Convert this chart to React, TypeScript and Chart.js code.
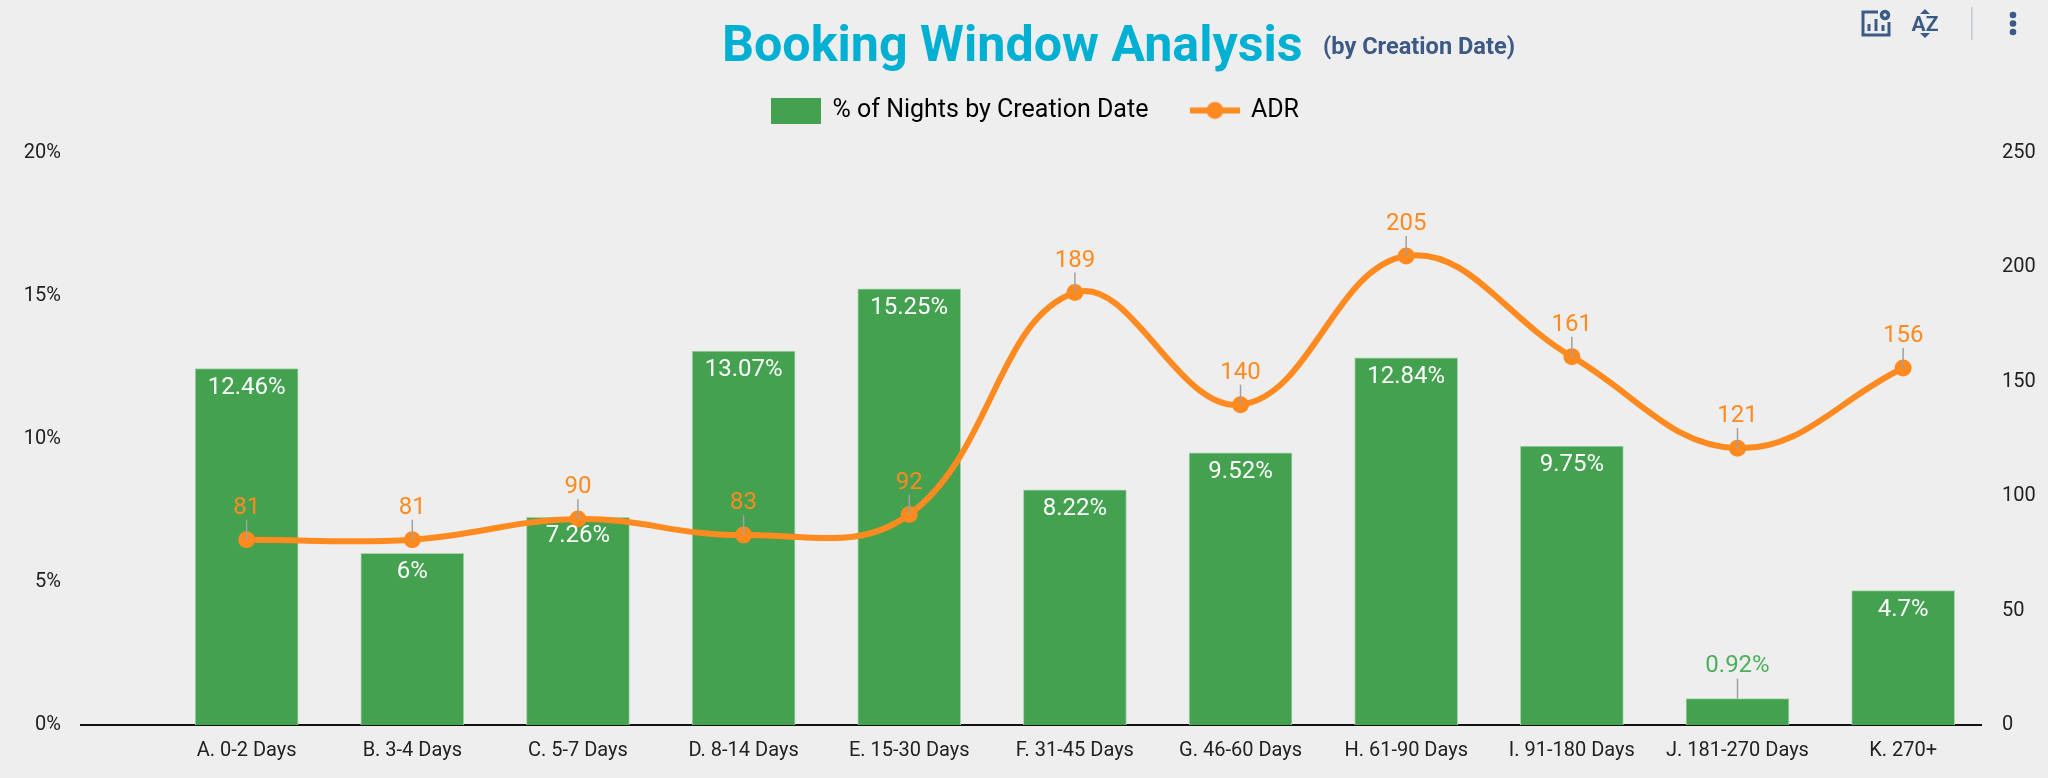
import React, { useEffect, useRef } from 'react';
import { Chart, registerables } from 'chart.js';

Chart.register(...registerables);

const CATEGORIES = [
    'A. 0-2 Days', 'B. 3-4 Days', 'C. 5-7 Days', 'D. 8-14 Days', 'E. 15-30 Days', 'F. 31-45 Days',
    'G. 46-60 Days', 'H. 61-90 Days', 'I. 91-180 Days', 'J. 181-270 Days', 'K. 270+',
];
const NIGHTS_PCT = [12.46, 6, 7.26, 13.07, 15.25, 8.22, 9.52, 12.84, 9.75, 0.92, 4.7];
const ADR = [81, 81, 90, 83, 92, 189, 140, 205, 161, 121, 156];
const PCT_TICKS = [0, 5, 10, 15, 20];
const ADR_TICKS = [0, 50, 100, 150, 200, 250];

const GREEN = '#43a14f';
const ORANGE = '#ff8a1f';
const FONT = 'Roboto, sans-serif';

const legendSwatch = (kind: 'bar' | 'line') => {
    const c = document.createElement('canvas');
    c.width = 50;
    c.height = 26;
    const ctx = c.getContext('2d')!;
    if (kind === 'bar') {
        ctx.fillStyle = GREEN;
        ctx.fillRect(0, 0, 50, 26);
    } else {
        ctx.fillStyle = ORANGE;
        ctx.fillRect(0, 10, 50, 6);
        ctx.beginPath();
        ctx.arc(25, 13, 8.5, 0, Math.PI * 2);
        ctx.fill();
    }
    return c;
};

// legend tweaks and value labels with the little grey leader lines
const valueLabels = {
    id: 'valueLabels',
    beforeInit(chart: any) {
        // extra gap under the legend
        const fit = chart.legend.fit;
        chart.legend.fit = function () {
            fit.call(chart.legend);
            this.height += 20;
        };
    },
    afterLayout(chart: any) {
        // legend sits a little right of the page centre
        chart.legend.left += 12;
        chart.legend.right += 12;
    },
    afterDatasetsDraw(chart: Chart) {
        const ctx = chart.ctx;
        const leader = (x: number, y1: number, y2: number) => {
            ctx.strokeStyle = '#a0a0a0';
            ctx.lineWidth = 1.5;
            ctx.beginPath();
            ctx.moveTo(x, y1);
            ctx.lineTo(x, y2);
            ctx.stroke();
        };
        ctx.save();
        ctx.font = '24px ' + FONT;
        ctx.textAlign = 'center';
        ctx.textBaseline = 'middle';
        chart.getDatasetMeta(0).data.forEach((bar: any, i: number) => {
            const text = NIGHTS_PCT[i] + '%';
            if (NIGHTS_PCT[i] < 2) {
                leader(bar.x, bar.y, bar.y - 20);
                ctx.fillStyle = '#4caf5c';
                ctx.fillText(text, bar.x, bar.y - 33);
            } else {
                ctx.fillStyle = '#ffffff';
                ctx.fillText(text, bar.x, bar.y + 19);
            }
        });
        chart.getDatasetMeta(1).data.forEach((pt: any, i: number) => {
            leader(pt.x, pt.y, pt.y - 20);
            ctx.fillStyle = ORANGE;
            ctx.fillText(String(ADR[i]), pt.x, pt.y - 32);
        });
        ctx.restore();
    },
};

const App: React.FC = () => {
    const chartRef = useRef<HTMLCanvasElement>(null);

    useEffect(() => {
        let chartInstance: Chart | undefined;
        if (chartRef.current) {
            chartInstance = new Chart(chartRef.current, {
                type: 'bar',
                data: {
                    datasets: [
                        {
                            label: '% of Nights by Creation Date',
                            data: NIGHTS_PCT.map((y, x) => ({ x, y })),
                            backgroundColor: GREEN,
                            borderColor: '#a9d3ad',
                            borderWidth: { top: 1, left: 1, right: 1, bottom: 0 },
                            barThickness: 103,
                            yAxisID: 'y',
                            order: 2,
                        },
                        {
                            type: 'line',
                            label: 'ADR',
                            data: ADR.map((y, x) => ({ x, y })),
                            borderColor: ORANGE,
                            backgroundColor: ORANGE,
                            borderWidth: 6,
                            pointRadius: 8.5,
                            pointBorderWidth: 0,
                            tension: 0.4,
                            yAxisID: 'y1',
                            order: 1,
                        },
                    ],
                } as any,
                options: {
                    responsive: false,
                    animation: false,
                    layout: { padding: { top: 55, left: 0, right: 0, bottom: 0 } },
                    plugins: {
                        tooltip: { enabled: false },
                        legend: {
                            position: 'top',
                            labels: {
                                usePointStyle: true,
                                pointStyleWidth: 47,
                                color: '#111111',
                                font: { family: FONT, size: 25 },
                                padding: 43,
                                generateLabels: () => [
                                    { text: '% of Nights by Creation Date', pointStyle: legendSwatch('bar'), datasetIndex: 0, lineWidth: 0 },
                                    { text: 'ADR', pointStyle: legendSwatch('line'), datasetIndex: 1, lineWidth: 0 },
                                ] as any,
                            },
                        },
                    },
                    scales: {
                        x: {
                            type: 'linear',
                            min: -1,
                            max: 10.47,
                            offset: false,
                            grid: { display: false },
                            border: { color: '#111111', width: 2 },
                            afterBuildTicks: (scale: any) => {
                                scale.ticks = CATEGORIES.map((_, value) => ({ value }));
                            },
                            afterFit: (scale: any) => {
                                scale.height = 53;
                            },
                            ticks: {
                                autoSkip: false,
                                maxRotation: 0,
                                color: '#222222',
                                padding: 6,
                                font: { family: FONT, size: 20 },
                                callback: (value: any) => CATEGORIES[value],
                            },
                        },
                        y: {
                            position: 'left',
                            min: 0,
                            max: 20,
                            grid: { display: false },
                            border: { display: false },
                            afterBuildTicks: (scale: any) => {
                                scale.ticks = PCT_TICKS.map((value) => ({ value }));
                            },
                            afterFit: (scale: any) => {
                                scale.width = 81;
                            },
                            ticks: {
                                color: '#222222',
                                padding: 12,
                                font: { family: FONT, size: 20 },
                                callback: (value: any) => value + '%',
                            },
                        },
                        y1: {
                            position: 'right',
                            min: 0,
                            max: 250,
                            grid: { display: false },
                            border: { display: false },
                            afterBuildTicks: (scale: any) => {
                                scale.ticks = ADR_TICKS.map((value) => ({ value }));
                            },
                            afterFit: (scale: any) => {
                                scale.width = 67;
                            },
                            ticks: {
                                color: '#222222',
                                padding: 13,
                                font: { family: FONT, size: 20 },
                            },
                        },
                    },
                } as any,
                plugins: [valueLabels],
            });
        }
        return () => chartInstance?.destroy();
    }, []);

    return (
        <div style={{ position: 'absolute', left: 0, top: 0, width: 2048, height: 778, background: '#eeeeee', fontFamily: FONT, overflow: 'hidden' }}>
            <canvas ref={chartRef} width={2048} height={778} style={{ display: 'block' }}></canvas>
            <div style={{ position: 'absolute', left: 722, top: 12, fontSize: 50.2, lineHeight: '64px', fontWeight: 700, color: '#00b0d3', whiteSpace: 'nowrap' }}>
                Booking Window Analysis
            </div>
            <div style={{ position: 'absolute', left: 1323, top: 32, fontSize: 23.6, lineHeight: '28px', fontWeight: 700, color: '#3d5a86', whiteSpace: 'nowrap' }}>
                (by Creation Date)
            </div>
            {/* toolbar icons */}
            <svg width="2048" height="60" style={{ position: 'absolute', left: 0, top: 0 }}>
                <g fill="none" stroke="#3b5a85" strokeWidth="3">
                    <path d="M1878 12h-15v23h26v-13" />
                    <path d="M1869 31v-7M1876 31v-12M1883 31v-6" />
                    <circle cx="1885" cy="15" r="3.5" strokeWidth="3.5" />
                </g>
                <text x="1925" y="31" textAnchor="middle" fontFamily={FONT} fontSize="21" fontWeight="700" fill="#3b5a85">AZ</text>
                <path d="M1925 9l-5 5h10zM1925 38l-5 -5h10z" fill="#3b5a85" />
                <rect x="1971" y="7" width="1.5" height="33" fill="#c3ccd8" />
                <g fill="#3b5a85">
                    <circle cx="2013" cy="15" r="3.3" />
                    <circle cx="2013" cy="23.5" r="3.3" />
                    <circle cx="2013" cy="32" r="3.3" />
                </g>
            </svg>
        </div>
    );
};

export default App;
